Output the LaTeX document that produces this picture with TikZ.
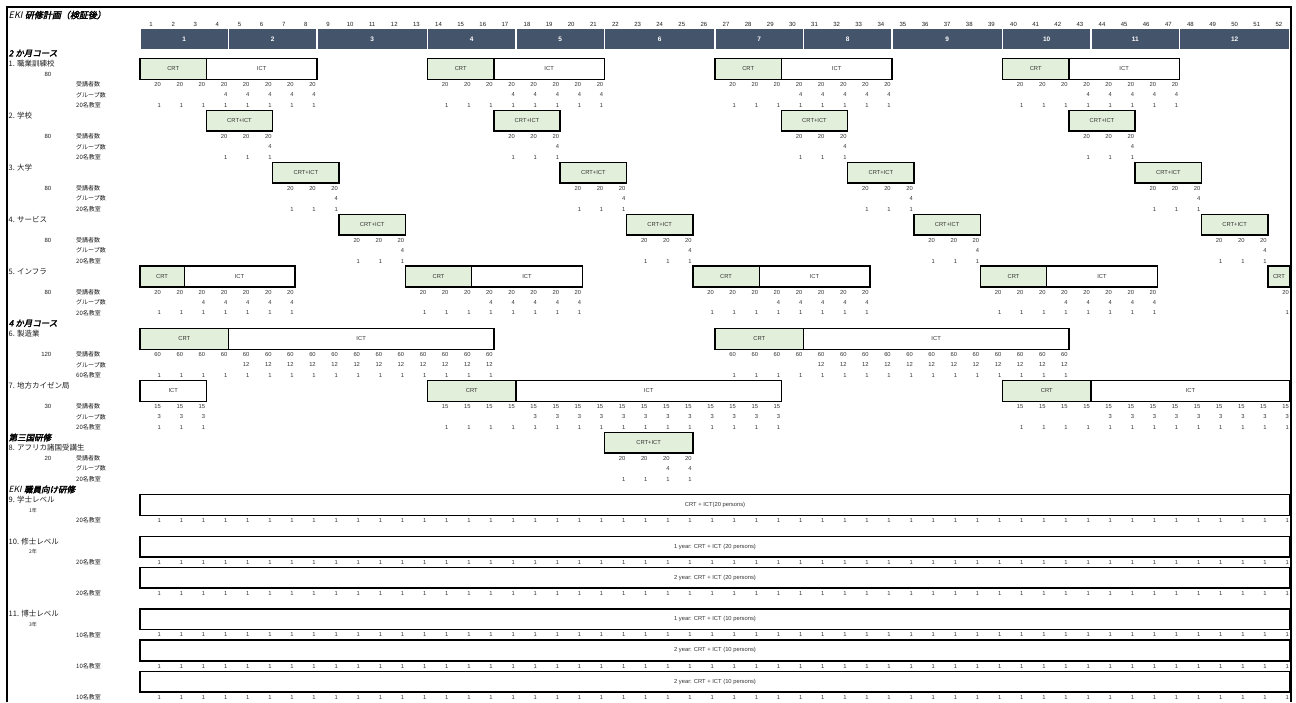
\documentclass[tikz,border=0pt]{standalone}
\usepackage{fontspec}
\setmainfont{Liberation Sans}
\newfontfamily\jp{Noto Sans CJK JP}
\newfontfamily\jpit{Noto Sans CJK JP}[FakeSlant=0.22]
\newfontfamily\jpbi{Noto Sans CJK JP}[FakeSlant=0.22,FakeBold=2.5]
\usetikzlibrary{calc}
\definecolor{monthbar}{RGB}{68,84,106}
\definecolor{crtgreen}{RGB}{226,239,218}
\definecolor{celltext}{RGB}{51,51,51}
\definecolor{labeltext}{RGB}{30,30,30}
\tikzset{
planbox/.style={draw=black, line width=1.4pt},
crtbox/.style={planbox, fill=crtgreen},
ictbox/.style={planbox, fill=white},
boxtxt/.style={font=\fontsize{5.8}{6}\selectfont, text=celltext, inner sep=0pt},
numtxt/.style={font=\fontsize{5.8}{6}\selectfont, text=celltext, anchor=east, inner sep=0pt},
wknum/.style={font=\fontsize{6}{7}\selectfont, text=labeltext, inner sep=0pt},
monthtxt/.style={font=\bfseries\fontsize{6.5}{7}\selectfont, text=white, inner sep=0pt},
sectitle/.style={font=\fontsize{8.5}{9}\selectfont, text=black, anchor=west, inner sep=0pt},
rowlabel/.style={font=\jp\fontsize{7.5}{8}\selectfont, text=labeltext, anchor=west, inner sep=0pt},
sublabel/.style={font=\jp\fontsize{6}{7}\selectfont, text=labeltext, anchor=west, inner sep=0pt},
countlabel/.style={font=\fontsize{6}{7}\selectfont, text=labeltext, anchor=east, inner sep=0pt},
yearlabel/.style={font=\jp\fontsize{5}{6}\selectfont, text=labeltext, anchor=west, inner sep=0pt},
frameline/.style={line width=2pt, draw=black}
}

% grid of the sheet: week cells and text lines
\def\XO{140}
\def\CW{22.115}
\def\YO{53.3}
\def\LH{10.385}

% #1 style, #2 first week, #3 last week, #4 top line, #5 text
\newcommand{\planbar}[5]{%
  \draw[#1] ({\XO+(#2-1)*\CW},{\YO+(#4-0.5)*\LH}) rectangle ({\XO+(#3)*\CW},{\YO+(#4+1.5)*\LH});
  \node[boxtxt] at ({\XO+(#2-1+#3)/2*\CW},{\YO+(#4+0.5)*\LH}) {#5};}

% #1 first week, #2 last week, #3 line, #4 value
\newcommand{\cellnums}[4]{%
  \foreach \w in {#1,...,#2} {\node[numtxt] at ({\XO+\w*\CW-1},{\YO+(#3)*\LH}) {#4};}}

% sub labels of one block: #1 first line, #2 room label
\newcommand{\blocklabels}[2]{%
  \node[sublabel] at (76,{\YO+(#1)*\LH}) {受講者数};
  \node[sublabel] at (76,{\YO+(#1+1)*\LH}) {グループ数};
  \node[sublabel] at (76,{\YO+(#1+2)*\LH}) {#2};}

\begin{document}
\begin{tikzpicture}[x=1pt,y=-1pt]
\useasboundingbox (0,0) rectangle (1296,702);
\fill[white] (0,0) rectangle (1296,702);

\draw[frameline] (6.5,702) -- (6.5,7) -- (1290.5,7) -- (1290.5,702);

\node[sectitle, font=\fontsize{9}{10}\selectfont] (title) at (8.5,15) {{\jpit EKI} {\jpbi 研修計画（検証後）}};

\foreach \w in {1,...,52} {
  \node[wknum] (wk\w) at ({\XO+(\w-0.5)*\CW},24) {\w};
}

\foreach \m/\a/\b in {1/1/4, 2/5/8, 3/9/13, 4/14/17, 5/18/21, 6/22/26,
  7/27/30, 8/31/34, 9/35/39, 10/40/43, 11/44/47, 12/48/52} {
  \fill[monthbar] ({\XO+(\a-1)*\CW+0.7},29.3) rectangle ({\XO+\b*\CW-0.7},49.3);
  \node[monthtxt] (mon\m) at ({\XO+(\a-1+\b)/2*\CW},39.3) {\m};
}

% section and row labels
\node[sectitle] (sec2m) at (8.5,{\YO}) {\jpbi 2 か月コース};
\node[sectitle] (sec4m) at (8.5,{\YO+26*\LH}) {\jpbi 4 か月コース};
\node[sectitle] (sec3c) at (8.5,{\YO+37*\LH}) {\jpbi 第三国研修};
\node[sectitle] (seceki) at (8.5,{\YO+42*\LH}) {{\jpit EKI} {\jpbi 職員向け研修}};

\foreach \ln/\txt in {1/1. 職業訓練校, 6/2. 学校, 11/3. 大学, 16/4. サービス, 21/5. インフラ,
  27/6. 製造業, 32/7. 地方カイゼン局, 38/8. アフリカ諸国受講生, 43/9. 学士レベル,
  47/10. 修士レベル, 54/11. 博士レベル} {
  \node[rowlabel] at (8.5,{\YO+\ln*\LH}) {\txt};
}

\foreach \ln/\cnt in {2/80, 8/80, 13/80, 18/80, 23/80, 29/120, 34/30, 39/20} {
  \node[countlabel] at (51.5,{\YO+\ln*\LH}) {\cnt};
}
\foreach \ln/\yr in {44/1年, 48/2年, 55/3年} {
  \node[yearlabel] at (29,{\YO+\ln*\LH}) {\yr};
}

\blocklabels{3}{20名教室}
\blocklabels{8}{20名教室}
\blocklabels{13}{20名教室}
\blocklabels{18}{20名教室}
\blocklabels{23}{20名教室}
\blocklabels{29}{60名教室}
\blocklabels{34}{20名教室}
\blocklabels{39}{20名教室}
\foreach \ln/\room in {45/20名教室, 49/20名教室, 52/20名教室, 56/10名教室, 59/10名教室, 62/10名教室} {
  \node[sublabel] at (76,{\YO+\ln*\LH}) {\room};
}

% 1. vocational schools
\foreach \k in {0,...,3} {
  \pgfmathtruncatemacro\cyA{13*\k+1}
  \pgfmathtruncatemacro\cyC{13*\k+3}
  \pgfmathtruncatemacro\cyD{13*\k+4}
  \pgfmathtruncatemacro\cyB{13*\k+8}
  \planbar{crtbox}{\cyA}{\cyC}{1}{CRT}
  \planbar{ictbox}{\cyD}{\cyB}{1}{ICT}
  \cellnums{\cyA}{\cyB}{3}{20}
  \cellnums{\cyD}{\cyB}{4}{4}
  \cellnums{\cyA}{\cyB}{5}{1}
}

% 2.-4. schools, universities, services
\foreach \ln/\off in {6/4, 11/7, 16/10} {
  \foreach \k in {0,...,3} {
    \pgfmathtruncatemacro\cyA{13*\k+\off}
    \pgfmathtruncatemacro\cyB{13*\k+\off+2}
    \planbar{crtbox}{\cyA}{\cyB}{\ln}{CRT+ICT}
    \cellnums{\cyA}{\cyB}{\ln+2}{20}
    \cellnums{\cyB}{\cyB}{\ln+3}{4}
    \cellnums{\cyA}{\cyB}{\ln+4}{1}
  }
}

% 5. infrastructure
\planbar{crtbox}{1}{2}{21}{CRT}
\planbar{ictbox}{3}{7}{21}{ICT}
\cellnums{1}{7}{23}{20}
\cellnums{3}{7}{24}{4}
\cellnums{1}{7}{25}{1}
\foreach \k in {1,...,3} {
  \pgfmathtruncatemacro\cyA{13*\k}
  \pgfmathtruncatemacro\cyC{13*\k+2}
  \pgfmathtruncatemacro\cyD{13*\k+3}
  \pgfmathtruncatemacro\cyB{13*\k+7}
  \planbar{crtbox}{\cyA}{\cyC}{21}{CRT}
  \planbar{ictbox}{\cyD}{\cyB}{21}{ICT}
  \cellnums{\cyA}{\cyB}{23}{20}
  \cellnums{\cyD}{\cyB}{24}{4}
  \cellnums{\cyA}{\cyB}{25}{1}
}
\planbar{crtbox}{52}{52}{21}{CRT}
\cellnums{52}{52}{23}{20}
\cellnums{52}{52}{25}{1}

% 6. manufacturing
\foreach \st in {1, 27} {
  \pgfmathtruncatemacro\cyC{\st+3}
  \pgfmathtruncatemacro\cyD{\st+4}
  \pgfmathtruncatemacro\cyB{\st+15}
  \planbar{crtbox}{\st}{\cyC}{27}{CRT}
  \planbar{ictbox}{\cyD}{\cyB}{27}{ICT}
  \cellnums{\st}{\cyB}{29}{60}
  \cellnums{\cyD}{\cyB}{30}{12}
  \cellnums{\st}{\cyB}{31}{1}
}

% 7. regional kaizen offices
\planbar{ictbox}{1}{3}{32}{ICT}
\planbar{crtbox}{14}{17}{32}{CRT}
\planbar{ictbox}{18}{29}{32}{ICT}
\planbar{crtbox}{40}{43}{32}{CRT}
\planbar{ictbox}{44}{52}{32}{ICT}
\cellnums{1}{3}{34}{15}
\cellnums{14}{29}{34}{15}
\cellnums{40}{52}{34}{15}
\cellnums{1}{3}{35}{3}
\cellnums{18}{29}{35}{3}
\cellnums{44}{52}{35}{3}
\cellnums{1}{3}{36}{1}
\cellnums{14}{29}{36}{1}
\cellnums{40}{52}{36}{1}

% 8. African trainees
\planbar{crtbox}{22}{25}{37}{CRT+ICT}
\cellnums{22}{25}{39}{20}
\cellnums{24}{25}{40}{4}
\cellnums{22}{25}{41}{1}

% 9.-11. EKI staff
\foreach \ln/\txt in {43/CRT + ICT(20 persons), 47/1 year: CRT + ICT (20 persons),
  50/2 year: CRT + ICT (20 persons), 54/1 year: CRT + ICT (10 persons),
  57/2 year: CRT + ICT (10 persons), 60/2 year: CRT + ICT (10 persons)} {
  \planbar{ictbox}{1}{52}{\ln}{\txt}
  \cellnums{1}{52}{\ln+2}{1}
}

\end{tikzpicture}
\end{document}
